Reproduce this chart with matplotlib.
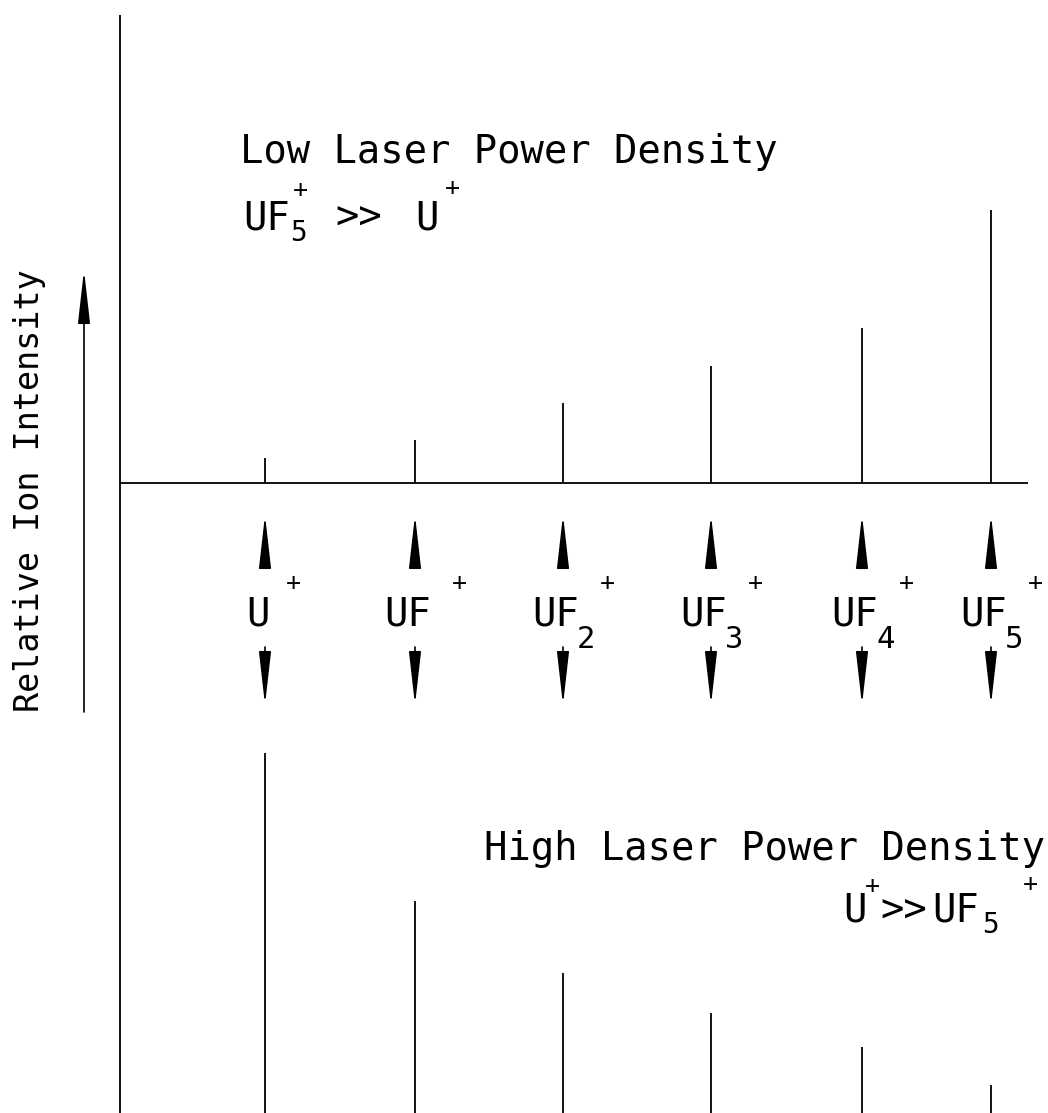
import matplotlib.pyplot as plt

# ion series shown in both spectra
ion_base = ['U', 'UF', 'UF', 'UF', 'UF', 'UF']
ion_sub = ['', '', '2', '3', '4', '5']
# peak positions along the mass axis (page units)
peak_x = [265, 415, 563, 711, 862, 991]
# relative ion intensities, low and high laser power density
low_power = [25, 43, 80, 117, 155, 273]
high_power = [360, 212, 140, 100, 66, 28]

W, H = 1048, 1113
BASE_LOW = 483      # baseline of the upper spectrum
BASE_HIGH = H       # baseline of the lower spectrum (page bottom)
FONT = 'DejaVu Sans Mono'
LW = 1.3

fig = plt.figure(figsize=(W / 100, H / 100), dpi=100)
ax = fig.add_axes([0, 0, 1, 1])
ax.set_xlim(0, W)
ax.set_ylim(H, 0)
ax.axis('off')


def arrow(x0, y0, x1, y1):
    ax.annotate('', xy=(x1, y1), xytext=(x0, y0),
                arrowprops=dict(arrowstyle='-|>,head_length=2.2,head_width=0.25',
                                mutation_scale=15, lw=1.2, color='black',
                                shrinkA=0, shrinkB=0))


def txt(x, y, s, size=28, **kw):
    kw.setdefault('ha', 'left')
    kw.setdefault('va', 'baseline')
    ax.text(x, y, s, fontsize=size, family=FONT, color='black', **kw)


# frame: intensity axis and baseline of the low power spectrum
ax.vlines(120, 15, H, color='black', lw=LW)
ax.hlines(BASE_LOW, 120, 1028, color='black', lw=LW)

# spectra
ax.vlines(peak_x, [BASE_LOW - v for v in low_power], BASE_LOW, color='black', lw=LW)
ax.vlines(peak_x, [BASE_HIGH - v for v in high_power], BASE_HIGH + 5, color='black', lw=LW)

# ion labels with the double arrows
for x, base, sub in zip(peak_x, ion_base, ion_sub):
    arrow(x, 567, x, 515)
    arrow(x, 647, x, 705)
    if base == 'U' and not sub:
        txt(x - 19, 626, base)
        txt(x + 28, 583, '+', size=18, ha='center', va='center')
    else:
        txt(x - 31, 626, base)
        if sub:
            txt(x + 14, 648, sub, size=22)
        txt(x + 44, 583, '+', size=18, ha='center', va='center')

# y label with arrow
ax.text(30, 491, 'Relative Ion Intensity', rotation=90, ha='center', va='center',
        fontsize=24, family=FONT)
arrow(84, 712, 84, 270)

# low power annotation
txt(240, 163, 'Low Laser Power Density')
txt(243, 229, 'UF')
txt(290, 241, '5', size=20)
txt(300, 190, '+', size=18, ha='center', va='center')
txt(335, 229, '>>')
txt(415, 229, 'U')
txt(452, 188, '+', size=18, ha='center', va='center')

# high power annotation
txt(1045, 860, 'High Laser Power Density', ha='right')
txt(843, 922, 'U')
txt(872, 886, '+', size=18, ha='center', va='center')
txt(880, 922, '>>')
txt(932, 922, 'UF')
txt(982, 933, '5', size=20)
txt(1030, 884, '+', size=18, ha='center', va='center')

plt.savefig('out.png', dpi=100)
plt.close()
